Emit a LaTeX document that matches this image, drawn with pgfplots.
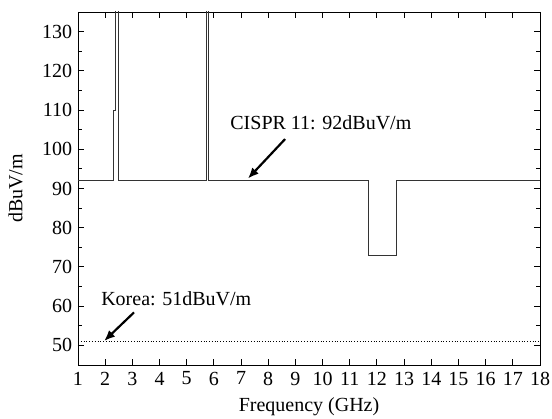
\documentclass[border=0pt]{standalone}
\usepackage{pgfplots}
\pgfplotsset{compat=1.18}
\usetikzlibrary{arrows.meta}
\usepackage{fontspec}
\setmainfont{Liberation Serif}
\begin{document}
\fontsize{20bp}{23bp}\selectfont
\begin{tikzpicture}
\useasboundingbox (-78bp,-54bp) rectangle (474bp,365bp);
\begin{axis}[
  at={(0,0)}, anchor=south west,
  scale only axis,
  width=462bp, height=353bp,
  xmin=1, xmax=18, ymin=45, ymax=135,
  xtick={1,2,...,18},
  ytick={50,60,...,130},
  minor y tick num=1,
  tick align=inside,
  major tick length=6bp,
  minor tick length=4bp,
  axis line style={line width=0.9pt},
  every tick/.style={line width=0.9pt, black},
  /pgf/number format/assume math mode=true,
  ticklabel style={font=\fontsize{20bp}{23bp}\selectfont},
  label style={font=\fontsize{20bp}{23bp}\selectfont},
  xticklabel style={yshift=0bp},
  yticklabel style={xshift=1bp},
  xlabel={Frequency (GHz)},
  ylabel={dBuV/m},
  xlabel style={yshift=1bp},
  ylabel style={yshift=6bp},
  clip=true,
]
\addplot[black!80, line width=0.8pt, forget plot] coordinates {
(1,92) (2.3,92) (2.3,110) (2.38,110) (2.38,140) (2.48,140) (2.48,92)
(5.73,92) (5.73,140) (5.81,140) (5.81,92)
(11.69,92) (11.69,73) (12.72,73) (12.72,92) (18,92)
};
\addplot[black, dotted, line width=0.8pt, forget plot] coordinates {(1,51) (18,51)};
\draw[-{Latex[length=11bp,width=9bp]}, line width=2.2pt] (axis cs:8.62,102.6) -- (axis cs:7.25,92.5);
\draw[-{Latex[length=11bp,width=9bp]}, line width=2.2pt] (axis cs:3.06,58.4) -- (axis cs:1.96,51.1);
\node[anchor=west, inner sep=0pt] at (axis cs:6.6,106.7) {CISPR 11: 92dBuV/m};
\node[anchor=west, inner sep=0pt] at (axis cs:1.85,61.8) {Korea: 51dBuV/m};
\end{axis}
\end{tikzpicture}
\end{document}
